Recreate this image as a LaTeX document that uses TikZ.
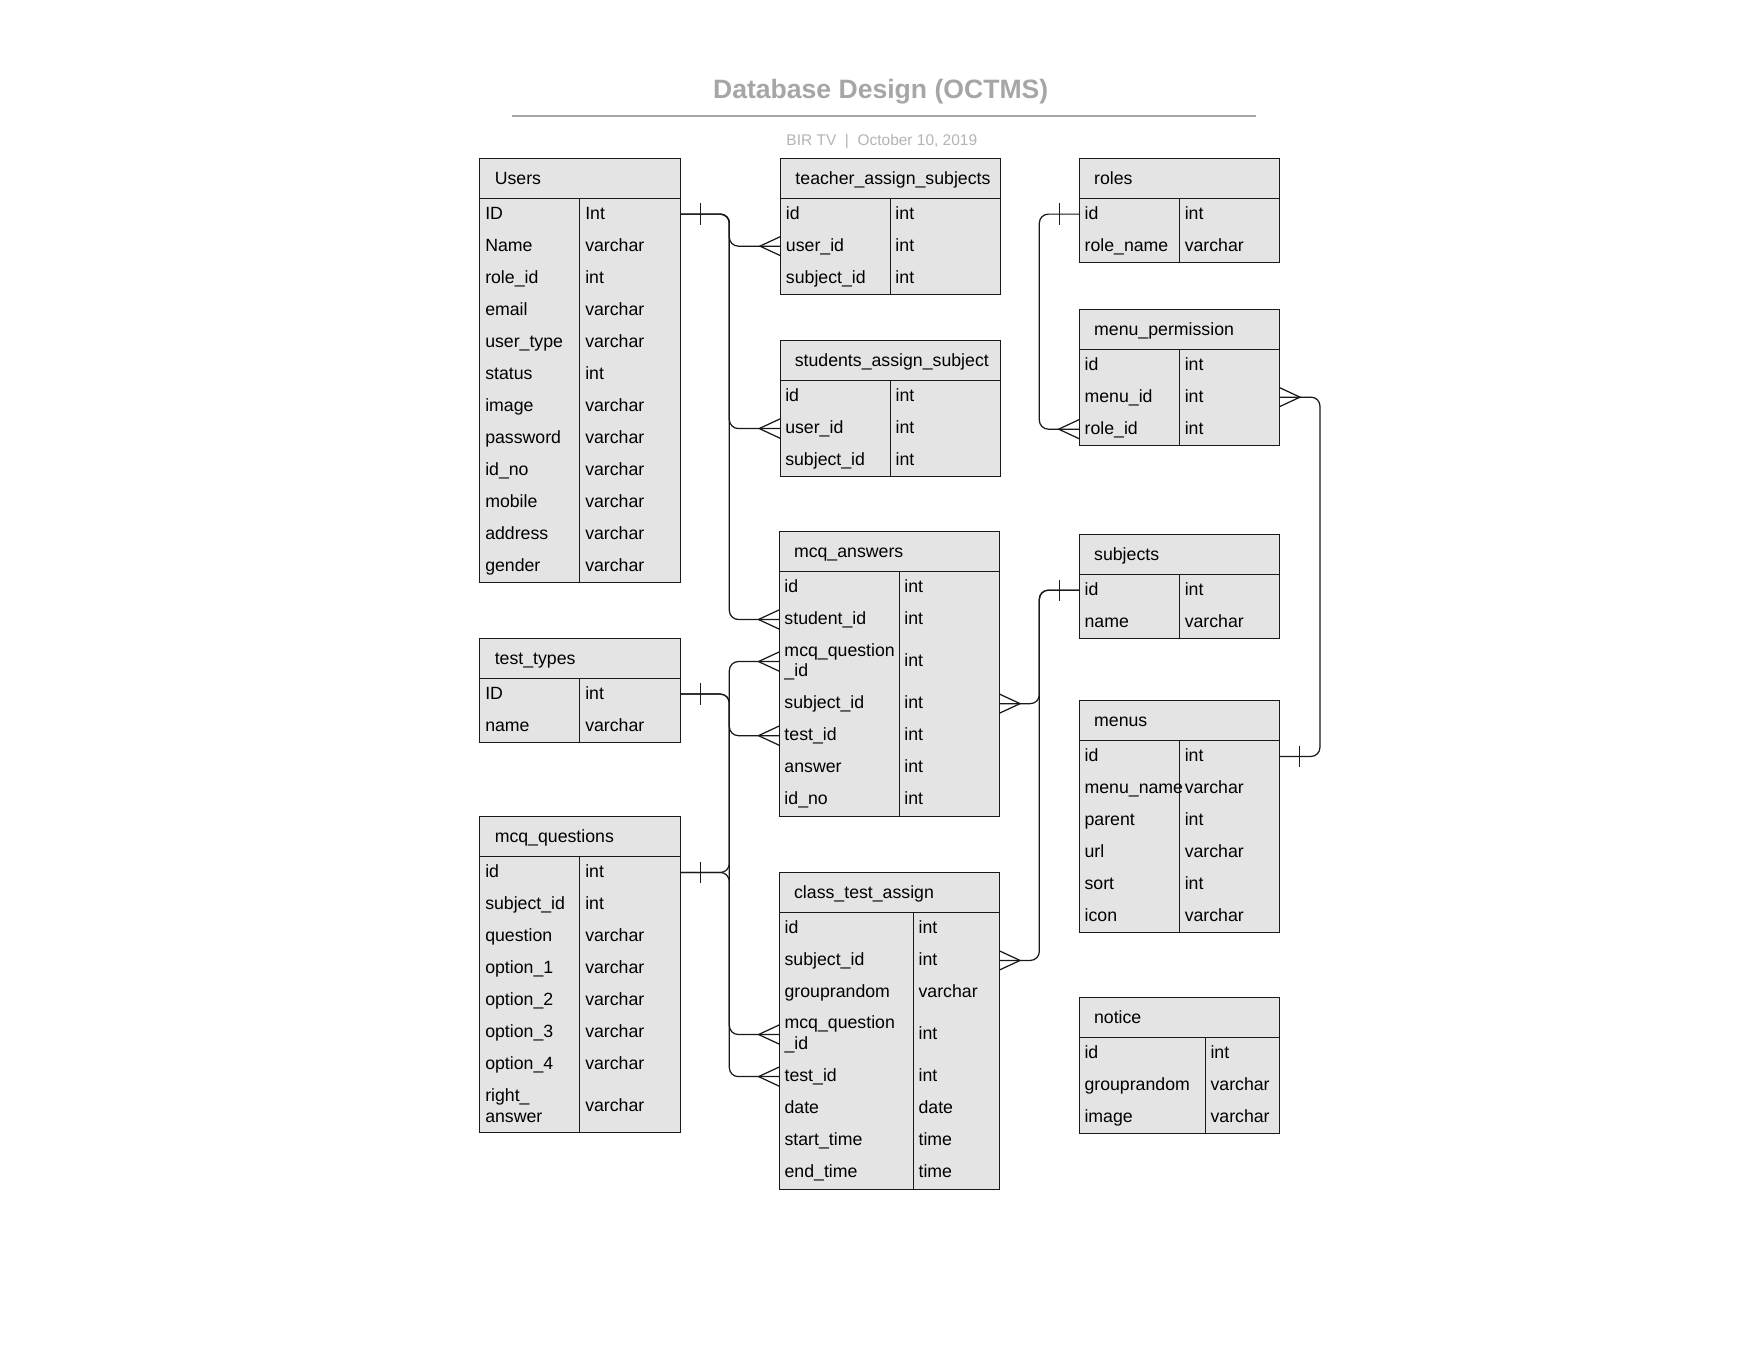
\documentclass[tikz,border=0pt]{standalone}
\usepackage{fontspec}
\setmainfont{Liberation Sans}
\definecolor{cellfill}{RGB}{228,228,228}
\definecolor{titlegray}{RGB}{166,166,166}
\definecolor{subgray}{RGB}{180,180,180}
\def\rh{28.55}
\def\rd{46.5}
\tikzset{
  tblline/.style={draw=black!90, line width=0.9pt},
  celltext/.style={anchor=base west, inner sep=0pt, font=\fontsize{15.8}{18.7}\selectfont},
  hdrtext/.style={anchor=base west, inner sep=0pt, font=\fontsize{15.8}{18.7}\selectfont},
  conn/.style={draw=black!90, line width=1.1pt, rounded corners=8pt},
  erdmark/.style={draw=black!90, line width=1.1pt},
}
% name, x1, xdiv, x2, top, title, bottom, rows
\newcommand\erdtable[8]{%
  \draw[tblline, fill=cellfill] (#2,#5) rectangle (#4,#5+35.5);
  \draw[tblline, fill=cellfill] (#2,#5+35.5) rectangle (#4,#7);
  \draw[tblline] (#3,#5+35.5) -- (#3,#7);
  \node[hdrtext] (#1-title) at (#2+13,#5+17.75+5.5) {#6};
  \pgfmathsetmacro\erdy{#5+35.5}%
  \xdef\erdy{\erdy}%
  \foreach \k/\kk/\v/\h [count=\i] in {#8}{%
    \pgfmathsetmacro\erdc{\erdy+\h/2}%
    \ifdim\h pt>30pt
      \node[celltext] (#1-k\i) at (#2+4.5,\erdc-9.35+4.4) {\k};
      \node[celltext] (#1-kk\i) at (#2+4.5,\erdc+9.35+4.4) {\kk};
    \else
      \node[celltext] (#1-k\i) at (#2+4.5,\erdc+4.4) {\k};
    \fi
    \node[celltext] (#1-v\i) at (#3+4.5,\erdc+4.4) {\v};
    \coordinate (#1-L\i) at (#2,\erdc);
    \coordinate (#1-R\i) at (#4,\erdc);
    \pgfmathsetmacro\erdy{\erdy+\h}%
    \xdef\erdy{\erdy}%
  }%
}
\newcommand\crowW[1]{\draw[erdmark] ([yshift=8.6pt]#1) -- ([xshift=-18.5pt]#1) -- ([yshift=-8.6pt]#1);}
\newcommand\crowE[1]{\draw[erdmark] ([yshift=8.6pt]#1) -- ([xshift=18.5pt]#1) -- ([yshift=-8.6pt]#1);}
\newcommand\barW[1]{\draw[erdmark] ([xshift=-18pt,yshift=9.5pt]#1) -- ([xshift=-18pt,yshift=-9.5pt]#1);}
\newcommand\barE[1]{\draw[erdmark] ([xshift=18pt,yshift=9.5pt]#1) -- ([xshift=18pt,yshift=-9.5pt]#1);}

\begin{document}
\begin{tikzpicture}[x=1pt,y=-1pt]
\useasboundingbox[fill=white] (0,0) rectangle (1568,1211);

% title block
\node[anchor=base, inner sep=0pt, text=titlegray, font=\bfseries\fontsize{23.7}{28}\selectfont] (title) at (785.5,87.5) {Database Design (OCTMS)};
\coordinate (ruleL) at (457,103.5);
\coordinate (ruleR) at (1120,103.5);
\draw[titlegray, line width=1.6pt] (ruleL) -- (ruleR);
\node[anchor=base, inner sep=0pt, text=subgray, font=\fontsize{13.8}{16}\selectfont] (subtitle) at (786.5,130) {BIR TV\ \ |\ \ October 10, 2019};

% tables
\erdtable{users}{428.1}{517.3}{607.1}{141.2}{Users}{519.5}{%
  {ID}/{}/{Int}/\rh, {Name}/{}/{varchar}/\rh, {role\_id}/{}/{int}/\rh, {email}/{}/{varchar}/\rh,
  {user\_type}/{}/{varchar}/\rh, {status}/{}/{int}/\rh, {image}/{}/{varchar}/\rh, {password}/{}/{varchar}/\rh,
  {id\_no}/{}/{varchar}/\rh, {mobile}/{}/{varchar}/\rh, {address}/{}/{varchar}/\rh, {gender}/{}/{varchar}/\rh}

\erdtable{tas}{696.3}{794}{892}{141.2}{teacher\_assign\_subjects}{262.5}{%
  {id}/{}/{int}/\rh, {user\_id}/{}/{int}/\rh, {subject\_id}/{}/{int}/\rh}

\erdtable{roles}{962.7}{1052}{1141}{141.2}{roles}{234}{%
  {id}/{}/{int}/\rh, {role\_name}/{}/{varchar}/\rh}

\erdtable{mp}{962.7}{1052}{1141}{275.9}{menu\_permission}{397.2}{%
  {id}/{}/{int}/\rh, {menu\_id}/{}/{int}/\rh, {role\_id}/{}/{int}/\rh}

\erdtable{sas}{695.7}{794.1}{892.3}{303.9}{students\_assign\_subject}{425.2}{%
  {id}/{}/{int}/\rh, {user\_id}/{}/{int}/\rh, {subject\_id}/{}/{int}/\rh}

\erdtable{mcqa}{695}{802}{891.3}{474.2}{mcq\_answers}{727.8}{%
  {id}/{}/{int}/\rh, {student\_id}/{}/{int}/\rh, {mcq\_question}/{\_id}/{int}/\rd,
  {subject\_id}/{}/{int}/\rh, {test\_id}/{}/{int}/\rh, {answer}/{}/{int}/\rh, {id\_no}/{}/{int}/\rh}

\erdtable{subjects}{962.7}{1052}{1141}{476.6}{subjects}{569.3}{%
  {id}/{}/{int}/\rh, {name}/{}/{varchar}/\rh}

\erdtable{tt}{428.1}{517.3}{607.1}{569.3}{test\_types}{662}{%
  {ID}/{}/{int}/\rh, {name}/{}/{varchar}/\rh}

\erdtable{menus}{962.7}{1052}{1141}{624.9}{menus}{831.8}{%
  {id}/{}/{int}/\rh, {menu\_name}/{}/{varchar}/\rh, {parent}/{}/{int}/\rh,
  {url}/{}/{varchar}/\rh, {sort}/{}/{int}/\rh, {icon}/{}/{varchar}/\rh}

\erdtable{mcqq}{428.1}{517.3}{607.1}{728.4}{mcq\_questions}{1010.5}{%
  {id}/{}/{int}/\rh, {subject\_id}/{}/{int}/\rh, {question}/{}/{varchar}/\rh,
  {option\_1}/{}/{varchar}/\rh, {option\_2}/{}/{varchar}/\rh, {option\_3}/{}/{varchar}/\rh,
  {option\_4}/{}/{varchar}/\rh, {right\_}/{answer}/{varchar}/\rd}

\erdtable{cta}{695.1}{814.6}{891.3}{778.3}{class\_test\_assign}{1060.8}{%
  {id}/{}/{int}/\rh, {subject\_id}/{}/{int}/\rh, {grouprandom}/{}/{varchar}/\rh,
  {mcq\_question}/{\_id}/{int}/\rd, {test\_id}/{}/{int}/\rh, {date}/{}/{date}/\rh,
  {start\_time}/{}/{time}/\rh, {end\_time}/{}/{time}/\rh}

\erdtable{notice}{962.6}{1075}{1141}{889.8}{notice}{1011}{%
  {id}/{}/{int}/\rh, {grouprandom}/{}/{varchar}/\rh, {image}/{}/{varchar}/\rh}

% trunks
\coordinate (trunkA) at (650.5,0);
\coordinate (trunkB) at (927,0);
\coordinate (trunkC) at (1177.3,0);

% connectors
\draw[conn] (users-R1) -| (trunkA |- tas-L2) -- (tas-L2);
\draw[conn] (users-R1) -| (trunkA |- sas-L2) -- (sas-L2);
\draw[conn] (users-R1) -| (trunkA |- mcqa-L2) -- (mcqa-L2);
\draw[conn] (tt-R1) -| (trunkA |- mcqa-L5) -- (mcqa-L5);
\draw[conn] (tt-R1) -| (trunkA |- cta-L5) -- (cta-L5);
\draw[conn] (mcqq-R1) -| (trunkA |- mcqa-L3) -- (mcqa-L3);
\draw[conn] (mcqq-R1) -| (trunkA |- cta-L4) -- (cta-L4);
\draw[conn] (roles-L1) -| (trunkB |- mp-L3) -- (mp-L3);
\draw[conn] (subjects-L1) -| (trunkB |- mcqa-R4) -- (mcqa-R4);
\draw[conn] (subjects-L1) -| (trunkB |- cta-R2) -- (cta-R2);
\draw[conn] (menus-R1) -| (trunkC |- mp-R2) -- (mp-R2);

% one-marks
\barE{users-R1}
\barE{tt-R1}
\barE{mcqq-R1}
\barW{roles-L1}
\barW{subjects-L1}
\barE{menus-R1}

% many-marks
\crowW{tas-L2}
\crowW{sas-L2}
\crowW{mcqa-L2}
\crowW{mcqa-L3}
\crowW{mcqa-L5}
\crowW{cta-L4}
\crowW{cta-L5}
\crowW{mp-L3}
\crowE{mp-R2}
\crowE{mcqa-R4}
\crowE{cta-R2}
\end{tikzpicture}
\end{document}
